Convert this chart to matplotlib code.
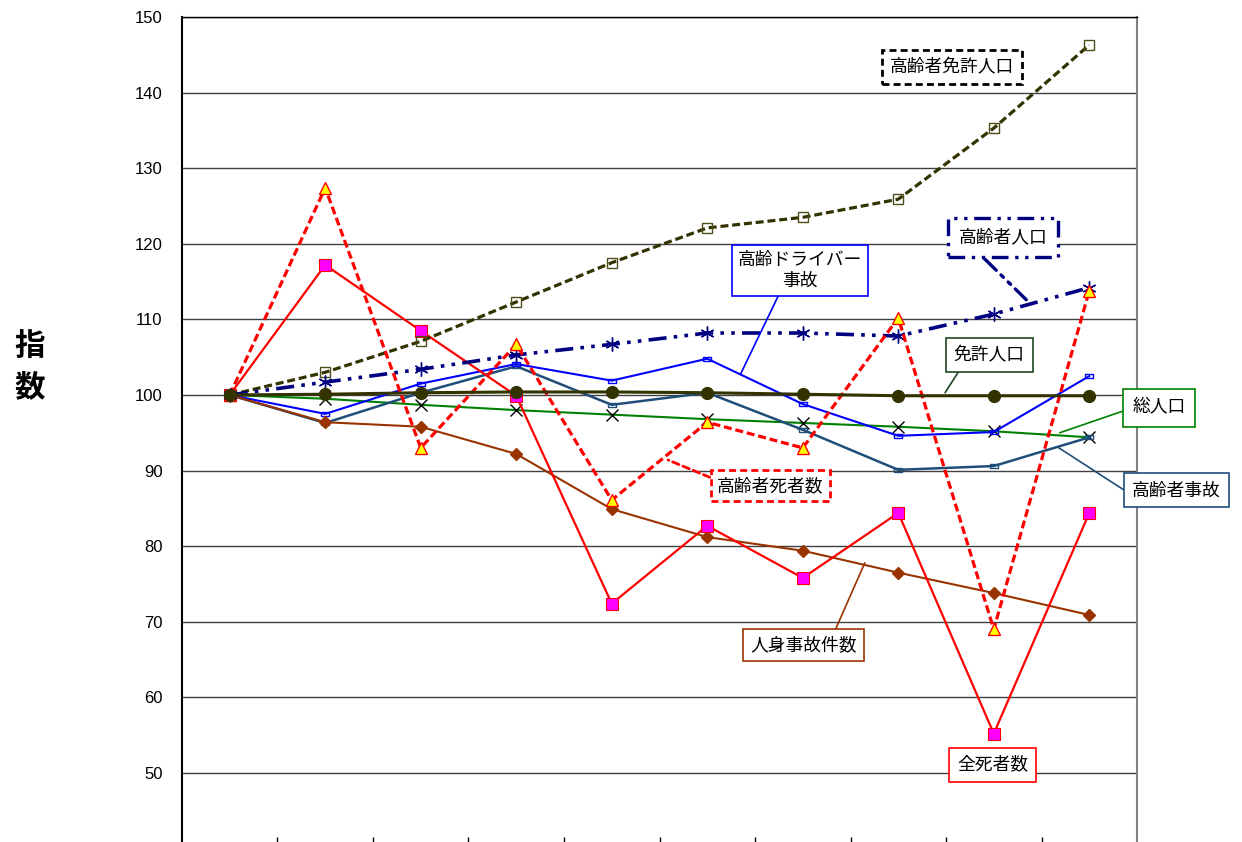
import numpy as np
import matplotlib
matplotlib.use("Agg")
import matplotlib.pyplot as plt

plt.rcParams['font.family'] = ['Noto Sans CJK JP', 'DejaVu Sans']

# 指数 (初年 = 100)
x = np.arange(1, 11)

koureisha_menkyo = [100, 103.0, 107.1, 112.3, 117.5, 122.1, 123.5, 125.9, 135.3, 146.3]
koureisha_jinko = [100, 101.7, 103.4, 105.3, 106.7, 108.2, 108.2, 107.8, 110.7, 114.2]
koureisha_shisha = [100, 127.4, 93.0, 106.7, 86.1, 96.4, 93.0, 110.2, 69.0, 113.8]
zen_shisha = [100, 117.2, 108.5, 99.9, 72.4, 82.7, 75.8, 84.4, 55.2, 84.4]
jinshin_jiko = [100, 96.4, 95.8, 92.2, 84.9, 81.2, 79.4, 76.5, 73.8, 70.9]
menkyo_jinko = [100, 100.1, 100.3, 100.4, 100.4, 100.3, 100.1, 99.9, 99.9, 99.9]
so_jinko = [100, 99.5, 98.7, 98.0, 97.4, 96.8, 96.3, 95.8, 95.2, 94.4]
driver_jiko = [100, 97.5, 101.5, 104.1, 101.9, 104.8, 98.8, 94.6, 95.1, 102.5]
koureisha_jiko = [100, 96.3, 100.3, 103.8, 98.7, 100.3, 95.4, 90.1, 90.6, 94.4]

fig = plt.figure(figsize=(12.42, 8.42), dpi=100, facecolor='white')
ax = fig.add_axes([0.1465, -0.0078, 0.769, 0.9876])

rect = [(-1, -0.45), (1, -0.45), (1, 0.45), (-1, 0.45), (-1, -0.45)]

ax.plot(x, so_jinko, color='#008000', lw=1.5, marker='x', ms=8, mec='black', mew=1.0, zorder=3)
ax.plot(x, koureisha_jiko, color='#1F4E79', lw=1.8, marker=rect, ms=6, mfc='none', mec='#1F4E79', zorder=3)
ax.plot(x, driver_jiko, color='#0000FF', lw=1.5, marker=rect, ms=6, mfc='none', mec='#0000FF', zorder=3)
ax.plot(x, jinshin_jiko, color='#993300', lw=1.5, marker='D', ms=6, mfc='#993300', mec='#993300', zorder=4)
ax.plot(x, zen_shisha, color='#FF0000', lw=1.6, marker='s', ms=8, mfc='#FF00FF', mec='#FF0000', mew=0.8, zorder=4)
ax.plot(x, koureisha_menkyo, color='#333300', lw=2.3, ls=(0, (2.5, 1.2)), marker='s', ms=7,
        mfc='none', mec='#4d4d1a', mew=1.0, zorder=5)
ax.plot(x, koureisha_jinko, color='#000080', lw=2.6, ls=(0, (5, 2, 1, 2, 1, 2)), marker=(6, 2, 0), ms=10,
        mec='#000080', mew=1.0, zorder=5)
ax.plot(x, koureisha_shisha, color='#FF0000', lw=2.3, ls=(0, (2.5, 1.2)), marker='^', ms=8,
        mfc='#FFFF00', mec='#FF0000', mew=1.0, zorder=6)
ax.plot(x, menkyo_jinko, color='#333300', lw=2.2, marker='o', ms=8.5, mfc='#333300', mec='#333300', zorder=6)

ax.set_xlim(0.5, 10.5)
ax.set_ylim(40, 150)
ax.set_yticks(np.arange(50, 151, 10))
ax.set_xticks(np.arange(1.5, 10.5, 1))
ax.set_xticklabels([])
ax.tick_params(axis='x', direction='in', length=9, width=1, color='black')
ax.tick_params(axis='y', length=0, pad=14, labelsize=12)
for lab in ax.get_yticklabels():
    lab.set_fontfamily('Liberation Sans')
ax.yaxis.grid(True, color='#404040', lw=1.0)
ax.set_axisbelow(True)
ax.spines['left'].set_color('black')
ax.spines['left'].set_linewidth(1.5)
ax.spines['right'].set_color('#808080')
ax.spines['right'].set_linewidth(1.5)
ax.spines['top'].set_linewidth(1.0)

fig.text(0.024, 0.565, '指\n数', fontsize=22, fontweight='bold', ha='center', va='center', linespacing=1.35)


def label(text, xy_text, color, ls='-', lw=1.2, xy=None, relpos=(0.5, 0.5), fs=12.8, pad=0.45,
          leader_ls='-'):
    kw = dict(textcoords='data', ha='center', va='center', fontsize=fs, color='black',
              annotation_clip=False, zorder=10,
              bbox=dict(boxstyle='square,pad=%s' % pad, fc='white', ec=color, lw=lw, ls=ls))
    if xy is None:
        ax.annotate(text, xy=xy_text, xytext=xy_text, **kw)
    else:
        ax.annotate(text, xy=xy, xytext=xy_text,
                    arrowprops=dict(arrowstyle='-', color=color, lw=lw, ls=leader_ls,
                                    relpos=relpos, shrinkA=0, shrinkB=0),
                    **kw)


label('高齢者免許人口', (8.56, 143.4), 'black', ls=(0, (2.5, 1.5)), lw=2.0)
label('高齢者人口', (9.10, 120.8), '#000080', ls=(0, (5, 2, 1, 2, 1, 2)), lw=2.4,
      xy=(9.34, 112.6), relpos=(0.15, 0), pad=0.6, leader_ls=(0, (5, 2, 1, 2, 1, 2)))
label('高齢ドライバー\n事故', (6.97, 116.5), '#0000FF', lw=1.2, xy=(6.35, 102.8),
      relpos=(0.35, 0), pad=0.35)
label('免許人口', (8.95, 105.3), '#1e4620', lw=1.2, xy=(8.49, 100.3), relpos=(0.14, 0))
label('総人口', (10.73, 98.3), '#008000', lw=1.2, xy=(9.69, 95.0), relpos=(0, 0.5), pad=0.55)
label('高齢者事故', (10.91, 87.4), '#1F4E79', lw=1.2, xy=(9.67, 93.1), relpos=(0, 0.23), pad=0.45)
label('高齢者死者数', (6.66, 88.0), '#FF0000', ls=(0, (2.5, 1.5)), lw=2.0,
      xy=(5.59, 91.4), relpos=(0, 0.8), pad=0.35, leader_ls=(0, (2.5, 1.5)))
label('人身事故件数', (7.01, 66.9), '#993300', lw=1.2, xy=(7.65, 77.8), relpos=(0.77, 1), pad=0.4)
label('全死者数', (8.99, 51.1), '#FF0000', lw=1.2, pad=0.45)

fig.savefig('out.png', dpi=100, facecolor='white')
